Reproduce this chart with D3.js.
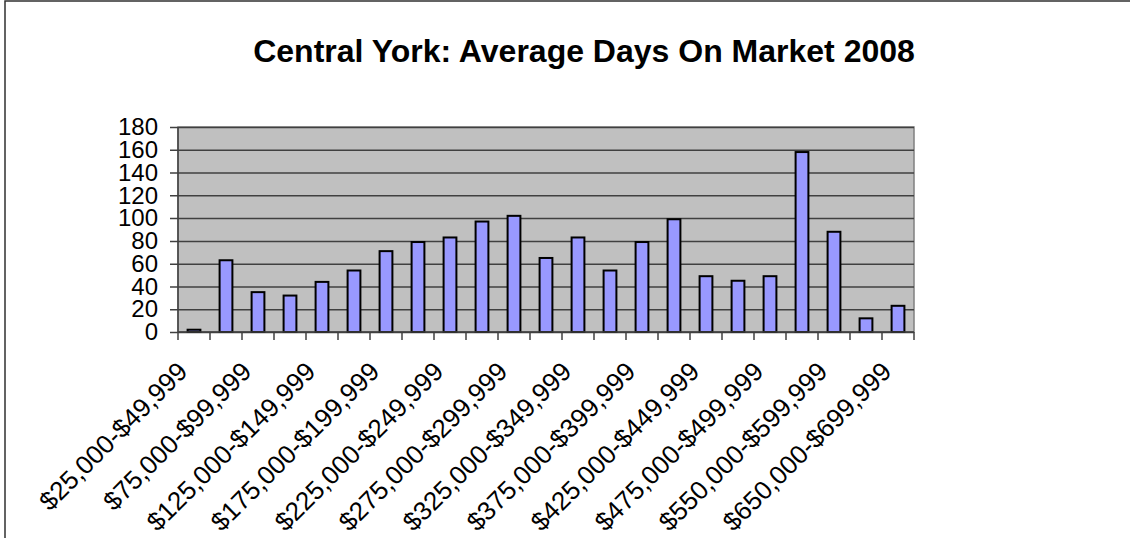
<html lang="en">
<head>
    <meta charset="UTF-8">
    <title>Central York: Average Days On Market 2008</title>
    <script type="text/javascript" src="https://unpkg.com/d3@7/dist/d3.min.js"></script>
    <style>
        body{
            margin:0;
            padding:0;
            background:#fff;
        }
        text {
            font-family: "Liberation Sans", Arial, sans-serif;
        }
    </style>
</head>
<body>
<svg width=1130 height=538></svg>

<script>

var categories = ['$25,000-$49,999', '$50,000-$74,999', '$75,000-$99,999', '$100,000-$124,999',
    '$125,000-$149,999', '$150,000-$174,999', '$175,000-$199,999', '$200,000-$224,999',
    '$225,000-$249,999', '$250,000-$274,999', '$275,000-$299,999', '$300,000-$324,999',
    '$325,000-$349,999', '$350,000-$374,999', '$375,000-$399,999', '$400,000-$424,999',
    '$425,000-$449,999', '$450,000-$474,999', '$475,000-$499,999', '$500,000-$549,999',
    '$550,000-$599,999', '$600,000-$649,999', '$650,000-$699,999']
var days = [2, 63, 35, 32, 44, 54, 71, 79, 83, 97, 102, 65, 83, 54, 79, 99, 49, 45, 49, 158, 88, 12, 23]
var yTicks = [0, 20, 40, 60, 80, 100, 120, 140, 160, 180]

var plotL = 178, plotR = 914, plotT = 127, plotB = 332

var svg = d3.select('svg')

// outer chart frame (right and bottom edges fall outside the picture)
svg.append('rect')
    .attr('x', 5).attr('y', 1)
    .attr('width', 1200).attr('height', 600)
    .attr('fill', 'none')
    .attr('stroke', '#303030')
    .attr('stroke-width', 1.5)

svg.append('text')
    .attr('x', 584).attr('y', 62)
    .attr('text-anchor', 'middle')
    .style('font-size', '32px')
    .style('font-weight', 'bold')
    .text('Central York: Average Days On Market 2008')

var x = d3.scaleBand().domain(categories).range([plotL, plotR])
var y = d3.scaleLinear().domain([0, 180]).range([plotB, plotT])

// plot area
svg.append('rect')
    .attr('x', plotL).attr('y', plotT)
    .attr('width', plotR - plotL).attr('height', plotB - plotT)
    .attr('fill', '#c0c0c0')
    .attr('stroke', '#808080')
    .attr('stroke-width', 1.5)

// gridlines + y ticks
svg.append('g')
    .attr('transform', 'translate(' + plotL + ',0)')
    .call(d3.axisLeft(y).tickValues(yTicks).tickSize(-(plotR - plotL)).tickPadding(20))
    .call(g => g.select('.domain').remove())
    .call(g => g.selectAll('line').attr('stroke', '#404040').attr('stroke-width', 1.5).attr('x1', -8))
    .call(g => g.selectAll('text').style('font-size', '24px').attr('fill', '#000').attr('font-family', null))

// bars
var bw = x.bandwidth() * 0.4
svg.append('g')
    .selectAll('rect')
    .data(days)
    .enter()
    .append('rect')
    .attr('x', (d, i) => x(categories[i]) + (x.bandwidth() - bw) / 2)
    .attr('y', d => y(d))
    .attr('width', bw)
    .attr('height', d => plotB - y(d))
    .attr('fill', '#9999ff')
    .attr('stroke', '#000')
    .attr('stroke-width', 2)

// axes lines
svg.append('line')
    .attr('x1', plotL).attr('x2', plotL).attr('y1', plotT).attr('y2', plotB)
    .attr('stroke', '#404040').attr('stroke-width', 1.5)
svg.append('line')
    .attr('x1', plotL).attr('x2', plotR).attr('y1', plotB).attr('y2', plotB)
    .attr('stroke', '#404040').attr('stroke-width', 1.5)

// x ticks at category boundaries
var bounds = categories.map(c => x(c)).concat([plotR])
svg.append('g')
    .selectAll('line')
    .data(bounds)
    .enter()
    .append('line')
    .attr('x1', d => d).attr('x2', d => d)
    .attr('y1', plotB).attr('y2', plotB + 8)
    .attr('stroke', '#404040').attr('stroke-width', 1.5)

// x labels, every other category, rotated
svg.append('g')
    .selectAll('text')
    .data(categories.filter((c, i) => i % 2 == 0))
    .enter()
    .append('text')
    .attr('transform', d => 'translate(' + (x(d) + x.bandwidth() / 2 - 5) + ',' + (plotB + 41) + ') rotate(-45)')
    .attr('text-anchor', 'end')
    .style('font-size', '26px')
    .text(d => d)

</script>
</body>
</html>
